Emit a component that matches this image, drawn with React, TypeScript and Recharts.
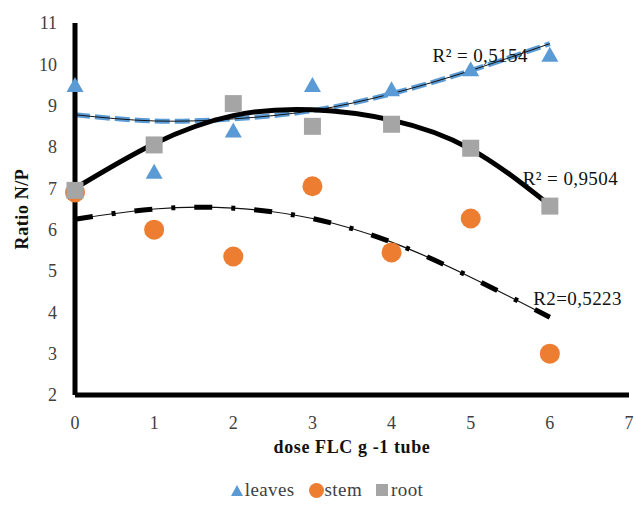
import {
  ComposedChart,
  Scatter,
  Line,
  XAxis,
  YAxis,
  ReferenceDot,
} from 'recharts'

// ─── Data ─────────────────────────────────────────────────────────────────────

const DOSES = [0, 1, 2, 3, 4, 5, 6]
const X_TICKS = [0, 1, 2, 3, 4, 5, 6, 7]
const Y_TICKS = [2, 3, 4, 5, 6, 7, 8, 9, 10, 11]

const LEAVES = [9.5, 7.4, 8.4, 9.5, 9.4, 9.88, 10.23]
const STEM = [6.9, 6.0, 5.35, 7.05, 5.45, 6.27, 3.0]
const ROOT = [6.95, 8.05, 9.05, 8.5, 8.55, 7.97, 6.57]

// trendlines at each dose
const LEAVES_TREND = [8.78, 8.63, 8.68, 8.88, 9.29, 9.85, 10.5]
const ROOT_TREND = [7.0, 8.08, 8.76, 8.9, 8.65, 7.95, 6.59]
const STEM_TREND = [6.25, 6.5, 6.52, 6.27, 5.7, 4.85, 3.88]

const R2_LABELS = ['R² = 0,5154', 'R² = 0,9504', 'R2=0,5223']

// ─── Style ────────────────────────────────────────────────────────────────────

const FONT = 'Liberation Serif, Times New Roman, serif'
const BLUE = '#5B9BD5'
const ORANGE = '#ED7D31'
const GRAY = '#A5A5A5'
const TEXT = '#404040'

const toPoints = (ys: number[]) => DOSES.map((x, i) => ({ x, y: ys[i] }))

// ─── Markers ──────────────────────────────────────────────────────────────────

function TriangleMark({ cx, cy }: { cx?: number; cy?: number }) {
  if (cx == null || cy == null) return null
  return <path d={`M${cx},${cy - 8} L${cx + 8.5},${cy + 7} L${cx - 8.5},${cy + 7} Z`} fill={BLUE} />
}

function CircleMark({ cx, cy }: { cx?: number; cy?: number }) {
  if (cx == null || cy == null) return null
  return <circle cx={cx} cy={cy} r={10} fill={ORANGE} />
}

function SquareMark({ cx, cy }: { cx?: number; cy?: number }) {
  if (cx == null || cy == null) return null
  return <rect x={cx - 8.5} y={cy - 8.5} width={17} height={17} fill={GRAY} />
}

// ─── Legend ───────────────────────────────────────────────────────────────────

function ChartLegend() {
  const item = { display: 'flex', alignItems: 'center', marginRight: 14 }
  return (
    <div
      style={{
        position: 'absolute',
        top: 479,
        left: 0,
        width: 636,
        display: 'flex',
        justifyContent: 'center',
        fontFamily: FONT,
        fontSize: 19,
        letterSpacing: 0.4,
        color: TEXT,
        paddingLeft: 16,
      }}
    >
      <span style={item}>
        <svg width={12} height={11} style={{ marginRight: 2 }}>
          <path d="M6,0 L12,11 L0,11 Z" fill={BLUE} />
        </svg>
        leaves
      </span>
      <span style={item}>
        <svg width={15} height={15} style={{ marginRight: 1 }}>
          <circle cx={7.5} cy={7.5} r={7.5} fill={ORANGE} />
        </svg>
        stem
      </span>
      <span style={item}>
        <svg width={12} height={12} style={{ marginRight: 3 }}>
          <rect width={12} height={12} fill={GRAY} />
        </svg>
        root
      </span>
    </div>
  )
}

// ─── App ──────────────────────────────────────────────────────────────────────

export default function App() {
  const tick = { fontSize: 18, fill: TEXT, fontFamily: FONT, style: { fontFamily: FONT } }
  const r2Style = { fontSize: 19, letterSpacing: 0.4, fill: '#111', fontFamily: FONT }
  const axisTitle = { fontSize: 18, letterSpacing: 0.6, fontWeight: 'bold', fill: '#111', fontFamily: FONT }

  return (
    <div
      style={{
        position: 'fixed',
        left: 0,
        top: 0,
        width: 636,
        height: 507,
        background: '#fff',
        fontFamily: FONT,
      }}
    >
      <ComposedChart
        width={636}
        height={507}
        margin={{ top: 23, right: 7, left: 15, bottom: 52 }}
        style={{ fontFamily: FONT }}
      >
        <XAxis
          type="number"
          dataKey="x"
          domain={[0, 7]}
          ticks={X_TICKS}
          interval={0}
          axisLine={{ stroke: '#000', strokeWidth: 5 }}
          tickLine={false}
          tick={tick}
          tickMargin={15}
          height={60}
          label={{ value: 'dose FLC g -1 tube', position: 'insideBottom', offset: 2, style: axisTitle }}
        />
        <YAxis
          type="number"
          dataKey="y"
          domain={[2, 11]}
          ticks={Y_TICKS}
          interval={0}
          axisLine={{ stroke: '#000', strokeWidth: 5 }}
          tickLine={false}
          tick={tick}
          tickMargin={12}
          width={60}
          label={{
            value: 'Ratio N/P',
            angle: -90,
            position: 'insideLeft',
            offset: 7,
            style: { ...axisTitle, textAnchor: 'middle' },
          }}
        />

        <Scatter name="leaves" data={toPoints(LEAVES)} shape={<TriangleMark />} isAnimationActive={false} />
        <Scatter name="stem" data={toPoints(STEM)} shape={<CircleMark />} isAnimationActive={false} />
        <Scatter name="root" data={toPoints(ROOT)} shape={<SquareMark />} isAnimationActive={false} />

        {/* leaves trend: blue dashes with a thin black line through them */}
        <Line data={toPoints(LEAVES_TREND)} dataKey="y" type="natural" stroke={BLUE}
          strokeWidth={5} strokeDasharray="15 5" dot={false} activeDot={false} isAnimationActive={false} />
        <Line data={toPoints(LEAVES_TREND)} dataKey="y" type="natural" stroke="#111"
          strokeWidth={1} dot={false} activeDot={false} isAnimationActive={false} />

        {/* root trend: thick solid black */}
        <Line data={toPoints(ROOT_TREND)} dataKey="y" type="natural" stroke="#000"
          strokeWidth={5} strokeLinecap="round" dot={false} activeDot={false} isAnimationActive={false} />

        {/* stem trend: long dash-dot over a thin line */}
        <Line data={toPoints(STEM_TREND)} dataKey="y" type="natural" stroke="#111"
          strokeWidth={1.2} dot={false} activeDot={false} isAnimationActive={false} />
        <Line data={toPoints(STEM_TREND)} dataKey="y" type="natural" stroke="#000"
          strokeWidth={5} strokeDasharray="18 19 4 19" dot={false} activeDot={false} isAnimationActive={false} />

        <ReferenceDot x={5.12} y={10.23} r={1} fill="none" stroke="none"
          label={{ value: R2_LABELS[0], position: 'center', style: r2Style }} />
        <ReferenceDot x={6.26} y={7.25} r={1} fill="none" stroke="none"
          label={{ value: R2_LABELS[1], position: 'center', style: r2Style }} />
        <ReferenceDot x={6.35} y={4.35} r={1} fill="none" stroke="none"
          label={{ value: R2_LABELS[2], position: 'center', style: r2Style }} />
      </ComposedChart>
      <ChartLegend />
    </div>
  )
}
